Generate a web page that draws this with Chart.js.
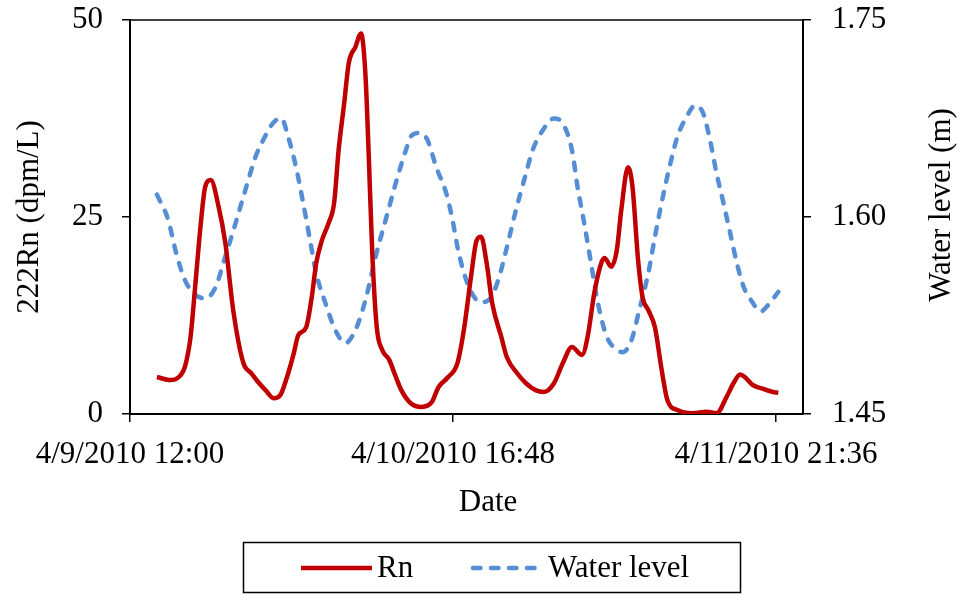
<!DOCTYPE html>
<html>
<head>
<meta charset="utf-8">
<title>Rn and water level</title>
<script src="https://cdn.jsdelivr.net/npm/chart.js@4.4.1/dist/chart.umd.min.js"></script>
<style>
  html, body { margin: 0; padding: 0; background: #fff; }
  #wrap { width: 959px; height: 594px; }
</style>
</head>
<body>
<div id="wrap"><canvas id="rnChart" width="959" height="594"></canvas></div>
<script>
// time is counted in hours from 4/9/2010 12:00
const rnHours = [
  2.4, 3.6, 4.5, 4.9, 5.4, 5.8, 6.3, 6.7, 7.2, 7.9, 8.5, 9.2, 10.1, 10.8, 11.4,
  12.1, 12.8, 13.4, 14.0, 14.6, 15.0, 15.7, 16.2, 16.6, 17.1, 17.7, 18.2, 18.6,
  19.1, 19.5, 20.1, 20.6, 21.0, 21.3, 21.6, 22.0, 22.5, 23.1, 23.7, 24.2, 25.0,
  26.0, 26.9, 27.5, 28.3, 29.2, 29.8, 30.4, 30.9, 31.3, 31.8, 32.3, 33.1, 33.6,
  34.5, 35.3, 36.2, 36.9, 37.8, 38.6, 39.4, 40.3, 40.8, 41.4, 42.0, 42.3, 42.9,
  43.4, 43.8, 44.4, 44.8, 45.3, 45.7, 46.2, 46.8, 47.4, 47.9, 48.8, 50.2, 51.4,
  52.3, 53.2, 53.8, 54.4, 54.8, 55.5, 56.2, 57.3, 57.8
];
const rnValues = [
  4.7, 4.3, 4.9, 6.0, 9.8, 16.0, 24.0, 28.8, 29.7, 26.3, 21.7, 13.2, 6.5, 5.2, 4.1,
  3.0, 2.0, 2.4, 4.7, 7.7, 10.0, 11.0, 14.8, 19.1, 22.0, 24.2, 26.8, 33.5,
  39.5, 44.5, 46.6, 48.3, 42.8, 32.2, 20.4, 11.0, 8.1, 6.9, 4.7, 3.0, 1.4,
  0.9, 1.5, 3.4, 4.6, 6.5, 11.0, 17.4, 22.0, 22.5, 19.1, 14.0, 9.8, 7.2,
  5.2, 3.9, 3.0, 2.8, 3.9, 6.5, 8.5, 7.5, 9.8, 15.4, 19.1, 19.8, 18.7,
  20.8, 25.9, 31.3, 28.8, 19.5, 14.8, 13.2, 11.0, 5.6, 1.8, 0.5, 0.1, 0.3,
  0.1, 2.2, 3.9, 5.0, 4.7, 3.7, 3.3, 2.8, 2.7
];
const levelHours = [
  2.4, 3.4, 4.1, 4.9, 5.8, 6.7, 7.6, 8.5, 9.4, 10.3, 11.2, 11.9, 12.8, 13.5,
  14.1, 14.8, 15.5, 16.1, 16.6, 17.4, 18.3, 19.2, 20.1, 21.0, 21.9, 22.8, 23.7,
  24.6, 25.1, 25.8, 26.5, 27.3, 28.2, 28.7, 29.3, 30.2, 31.3, 32.2, 32.9, 33.6,
  34.4, 35.2, 35.9, 36.8, 37.8, 38.6, 39.4, 39.9, 40.5, 41.1, 41.7, 42.5, 43.4,
  43.9, 44.7, 45.4, 46.2, 46.8, 47.4, 48.1, 48.8, 49.6, 50.4, 51.1, 51.7, 52.3,
  52.9, 53.5, 54.1, 54.7, 55.5, 56.2, 56.9, 57.8
];
const levelValues = [
  1.617, 1.598, 1.573, 1.552, 1.541, 1.538, 1.546, 1.570, 1.595, 1.621, 1.646, 1.659, 1.672, 1.675,
  1.661, 1.638, 1.608, 1.580, 1.557, 1.535, 1.514, 1.504, 1.514, 1.537, 1.570, 1.598, 1.626,
  1.651, 1.662, 1.664, 1.659, 1.638, 1.618, 1.600, 1.573, 1.547, 1.535, 1.539, 1.554, 1.577,
  1.605, 1.630, 1.651, 1.666, 1.675, 1.671, 1.651, 1.623, 1.595, 1.565, 1.535, 1.509, 1.499,
  1.497, 1.506, 1.529, 1.557, 1.585, 1.611, 1.638, 1.661, 1.676, 1.685, 1.679, 1.659, 1.633,
  1.611, 1.588, 1.565, 1.547, 1.535, 1.528, 1.533, 1.543
];
const xTickHours = [0, 28.8, 57.6];
const xTickLabels = ["4/9/2010 12:00", "4/10/2010 16:48", "4/11/2010 21:36"];
const rnTicks = [0, 25, 50];
const levelTicks = [1.45, 1.60, 1.75];

const FONT = { family: '"Liberation Serif", "Times New Roman", serif', size: 31 };
const FONT_CSS = '31px "Liberation Serif", "Times New Roman", serif';

function toPoints(xs, ys) {
    return xs.map((x, i) => ({ x, y: ys[i] }));
}

// y axes: fixed width, and no extra room asked for the end labels
function fixWidth(w) {
    return s => {
        s.width = w;
        s.paddingTop = 0;
        s.paddingBottom = 0;
    };
}

// top edge of the plot, the two free-drawn titles and the boxed legend
const framePlugin = {
    id: "frame",
    afterDraw(chart) {
        const { ctx, chartArea: a } = chart;
        const ds = chart.data.datasets;
        ctx.save();
        ctx.strokeStyle = "#000";
        ctx.lineWidth = 1.5;
        ctx.beginPath();
        ctx.moveTo(a.left, a.top);
        ctx.lineTo(a.right, a.top);
        ctx.stroke();

        ctx.fillStyle = "#000";
        ctx.font = FONT_CSS;
        ctx.textAlign = "center";
        ctx.textBaseline = "middle";
        ctx.fillText("Date", 488, 503);

        ctx.save();
        ctx.translate(942, 205);
        ctx.rotate(-Math.PI / 2);
        ctx.fillText("Water level (m)", 0, 0);
        ctx.restore();

        // ---- legend ----
        ctx.lineWidth = 1.5;
        ctx.strokeRect(243.5, 542.5, 497, 50);
        const rowY = 568;
        const items = [
            { x0: 301, x1: 372, tx: 377, d: ds[0] },
            { x0: 473, x1: 540, tx: 548, d: ds[1] }
        ];
        items.forEach(it => {
            ctx.strokeStyle = it.d.borderColor;
            ctx.lineWidth = it.d.borderWidth;
            ctx.lineCap = it.d.borderCapStyle || "butt";
            ctx.setLineDash(it.d.borderDash || []);
            ctx.beginPath();
            ctx.moveTo(it.x0, rowY);
            ctx.lineTo(it.x1, rowY);
            ctx.stroke();
            ctx.setLineDash([]);
            ctx.textAlign = "left";
            ctx.fillText(it.d.label, it.tx, rowY + 1);
        });
        ctx.restore();
    }
};

const axisGrid = {
    drawOnChartArea: false,
    drawTicks: true,
    tickLength: 8,
    color: "#000",
    lineWidth: 1.5
};
const axisBorder = { color: "#000", width: 2 };

new Chart(document.getElementById("rnChart").getContext("2d"), {
    type: "line",
    data: {
        datasets: [
            {
                label: "Rn",
                data: toPoints(rnHours, rnValues),
                yAxisID: "y",
                borderColor: "#C00000",
                borderWidth: 4.5,
                borderCapStyle: "butt",
                pointRadius: 0,
                cubicInterpolationMode: "monotone",
                fill: false
            },
            {
                label: "Water level",
                data: toPoints(levelHours, levelValues),
                yAxisID: "y1",
                borderColor: "#558ED5",
                borderWidth: 4.5,
                borderDash: [7.5, 10.5],
                borderCapStyle: "round",
                pointRadius: 0,
                cubicInterpolationMode: "monotone",
                fill: false
            }
        ]
    },
    options: {
        responsive: false,
        animation: false,
        devicePixelRatio: 1,
        layout: { padding: { top: 20, left: 0, right: 0, bottom: 0 } },
        plugins: {
            legend: { display: false },
            tooltip: { enabled: false }
        },
        scales: {
            x: {
                type: "linear",
                position: "bottom",
                min: 0,
                max: 60,
                afterBuildTicks: s => { s.ticks = xTickHours.map(v => ({ value: v })); },
                afterFit: s => { s.height = 180; },
                ticks: {
                    callback: (v, i) => xTickLabels[i],
                    font: FONT,
                    color: "#000",
                    maxRotation: 0,
                    autoSkip: false,
                    padding: 14
                },
                grid: axisGrid,
                border: axisBorder
            },
            y: {
                position: "left",
                min: 0,
                max: 50,
                afterBuildTicks: s => { s.ticks = rnTicks.map(v => ({ value: v })); },
                afterFit: fixWidth(130),
                ticks: { font: FONT, color: "#000", padding: 19 },
                grid: axisGrid,
                border: axisBorder,
                title: {
                    display: true,
                    text: "222Rn (dpm/L)",
                    font: FONT,
                    color: "#000",
                    padding: { top: 11, bottom: 0 }
                }
            },
            y1: {
                position: "right",
                min: 1.45,
                max: 1.75,
                afterBuildTicks: s => { s.ticks = levelTicks.map(v => ({ value: v })); },
                afterFit: fixWidth(156),
                ticks: {
                    font: FONT,
                    color: "#000",
                    padding: 21,
                    callback: v => v.toFixed(2)
                },
                grid: axisGrid,
                border: axisBorder
            }
        }
    },
    plugins: [framePlugin]
});
</script>
</body>
</html>
